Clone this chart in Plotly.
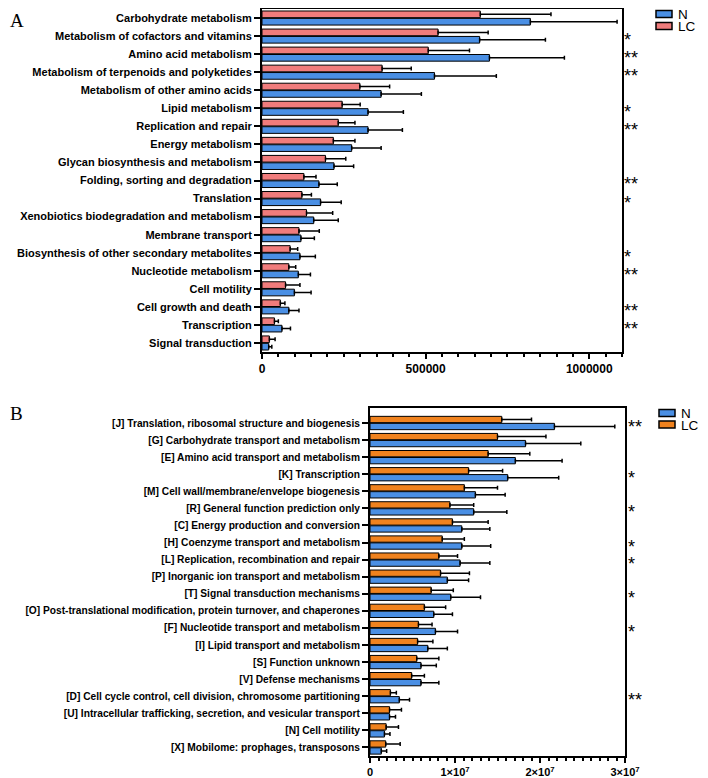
import plotly.graph_objects as go

# Panel A - KEGG pathways
kegg_terms = ["Carbohydrate metabolism", "Metabolism of cofactors and vitamins", "Amino acid metabolism",
              "Metabolism of terpenoids and polyketides", "Metabolism of other amino acids", "Lipid metabolism",
              "Replication and repair", "Energy metabolism", "Glycan biosynthesis and metabolism",
              "Folding, sorting and degradation", "Translation", "Xenobiotics biodegradation and metabolism",
              "Membrane transport", "Biosynthesis of other secondary metabolites", "Nucleotide metabolism",
              "Cell motility", "Cell growth and death", "Transcription", "Signal transduction"]
kegg_lc = [667000, 538000, 508000, 367000, 299000, 245000, 233000, 218000, 194000, 128000,
           122000, 136000, 113000, 86000, 82000, 72000, 56000, 38000, 22500]
kegg_lc_sd = [216000, 153000, 126000, 89000, 91000, 55000, 51000, 66000, 62000, 37000,
              29000, 80000, 62000, 23000, 21000, 44000, 14000, 12000, 17500]
kegg_n = [820000, 665000, 695000, 527000, 364000, 324000, 324000, 274000, 220000, 174000,
          179000, 158000, 119000, 116000, 111000, 99000, 82000, 61000, 20500]
kegg_n_sd = [265000, 201000, 229000, 189000, 123000, 108000, 105000, 90000, 60000, 56000,
             63000, 75000, 41000, 47000, 37000, 51000, 31000, 26000, 9500]
kegg_sig = ["", "*", "**", "**", "", "*", "**", "", "", "**", "*", "", "", "*", "**", "", "**", "**", ""]

# Panel B - COG categories
cog_terms = ["[J] Translation, ribosomal structure and biogenesis", "[G] Carbohydrate transport and metabolism",
             "[E] Amino acid transport and metabolism", "[K] Transcription",
             "[M] Cell wall/membrane/envelope biogenesis", "[R] General function prediction only",
             "[C] Energy production and conversion", "[H] Coenzyme transport and metabolism",
             "[L] Replication, recombination and repair", "[P] Inorganic ion transport and metabolism",
             "[T] Signal transduction mechanisms",
             "[O] Post-translational modification, protein turnover, and chaperones",
             "[F] Nucleotide transport and metabolism", "[I] Lipid transport and metabolism",
             "[S] Function unknown", "[V] Defense mechanisms",
             "[D] Cell cycle control, cell division, chromosome partitioning",
             "[U] Intracellular trafficking, secretion, and vesicular transport",
             "[N] Cell motility", "[X] Mobilome: prophages, transposons"]
cog_lc = [15.5e6, 15.0e6, 13.9e6, 11.6e6, 11.1e6, 9.4e6, 9.7e6, 8.5e6, 8.1e6, 8.3e6,
          7.2e6, 6.4e6, 5.7e6, 5.6e6, 5.5e6, 4.9e6, 2.4e6, 2.3e6, 1.9e6, 1.85e6]
cog_lc_sd = [3.5e6, 5.7e6, 4.9e6, 4.0e6, 3.9e6, 2.8e6, 4.2e6, 2.6e6, 2.2e6, 3.4e6,
             2.6e6, 2.5e6, 1.6e6, 1.8e6, 2.6e6, 1.5e6, 0.7e6, 1.4e6, 1.45e6, 1.7e6]
cog_n = [21.7e6, 18.3e6, 17.1e6, 16.2e6, 12.4e6, 12.2e6, 10.8e6, 10.8e6, 10.6e6, 9.1e6,
         9.5e6, 7.5e6, 7.7e6, 6.8e6, 6.0e6, 6.0e6, 3.45e6, 2.3e6, 1.7e6, 1.33e6]
cog_n_sd = [7.1e6, 6.5e6, 5.5e6, 6.0e6, 3.5e6, 3.9e6, 3.3e6, 3.4e6, 3.5e6, 2.5e6,
            3.5e6, 2.2e6, 2.6e6, 2.3e6, 1.8e6, 2.1e6, 1.2e6, 0.7e6, 0.65e6, 0.63e6]
cog_sig = ["**", "", "", "*", "", "*", "", "*", "*", "", "*", "", "*", "", "", "", "**", "", "", ""]

BLUE = "#4a8fe4"
SALMON = "#f07c7c"
ORANGE = "#f0821e"
FONT = "Liberation Sans"

# page has an 8px body margin, so the figure is drawn 8px in from the top-left
W, H = 692, 770


def px_x(v):
    return v / W


def px_y(v):
    return 1 - v / H


def bar(name, x, sd, y, color, xa, ya):
    return go.Bar(
        name=name, x=x, y=y, orientation="h", xaxis=xa, yaxis=ya, showlegend=False,
        marker=dict(color=color, line=dict(color="black", width=1)),
        error_x=dict(type="data", array=sd, arrayminus=[0] * len(sd), symmetric=False,
                     color="black", thickness=1.5, width=2),
    )


fig = go.Figure()
fig.add_trace(bar("LC", kegg_lc, kegg_lc_sd, kegg_terms, SALMON, "x", "y"))
fig.add_trace(bar("N", kegg_n, kegg_n_sd, kegg_terms, BLUE, "x", "y"))
fig.add_trace(bar("LC", cog_lc, cog_lc_sd, cog_terms, ORANGE, "x2", "y2"))
fig.add_trace(bar("N", cog_n, cog_n_sd, cog_terms, BLUE, "x2", "y2"))

axis_common = dict(showline=True, linecolor="black", linewidth=2, mirror=True, automargin=False,
                   ticks="outside", tickcolor="black", tickwidth=2, showgrid=False, zeroline=False)

fig.update_layout(
    template="none",
    width=W, height=H,
    margin=dict(l=0, r=0, t=0, b=0),
    paper_bgcolor="white", plot_bgcolor="white",
    barmode="group", bargap=0.18, bargroupgap=0.1,
    font=dict(family=FONT, color="black"),
    showlegend=False,
    xaxis=dict(domain=[px_x(254), px_x(614)], anchor="y", range=[0, 1100000],
               tickvals=[0, 500000, 1000000], ticktext=["0", "500000", "1000000"],
               tickfont=dict(size=12, weight="bold"), ticklen=5,
               minor=dict(dtick=50000, ticks="outside", ticklen=3, tickwidth=1.5, tickcolor="black"),
               **axis_common),
    yaxis=dict(domain=[px_y(344), px_y(1)], anchor="x", autorange="reversed",
               categoryorder="array", categoryarray=kegg_terms, ticklen=6,
               tickfont=dict(size=11, weight="bold"), **axis_common),
    xaxis2=dict(domain=[px_x(362), px_x(617)], anchor="y2", range=[0, 3e7],
                tickvals=[0, 1e7, 2e7, 3e7],
                ticktext=["0", "1×10<sup>7</sup>", "2×10<sup>7</sup>", "3×10<sup>7</sup>"],
                tickfont=dict(size=11, weight="bold"), ticklen=5,
                minor=dict(dtick=1e6, ticks="outside", ticklen=3, tickwidth=1.5, tickcolor="black"),
                **axis_common),
    yaxis2=dict(domain=[px_y(748), px_y(400)], anchor="x2", autorange="reversed",
                categoryorder="array", categoryarray=cog_terms, ticklen=6,
                tickfont=dict(size=10.2, weight="bold"), **axis_common),
)

annotations = [
    dict(text="A", x=0, y=1, xref="paper", yref="paper", xanchor="left", yanchor="top",
         showarrow=False, font=dict(family="Liberation Serif", size=19)),
    dict(text="B", x=0, y=px_y(393), xref="paper", yref="paper", xanchor="left", yanchor="top",
         showarrow=False, font=dict(family="Liberation Serif", size=19)),
]
for term, s in zip(kegg_terms, kegg_sig):
    if s:
        annotations.append(dict(text=s, x=1.004, y=term, xref="x domain", yref="y", xanchor="left",
                                yanchor="middle", yshift=-4, showarrow=False, font=dict(size=18),
                                borderpad=0))
for term, s in zip(cog_terms, cog_sig):
    if s:
        annotations.append(dict(text=s, x=1.009, y=term, xref="x2 domain", yref="y2", xanchor="left",
                                yanchor="middle", yshift=-4, showarrow=False, font=dict(size=18),
                                borderpad=0))

# legends drawn by hand: flat swatches with a black outline, like the original
shapes = []
legend_spots = [
    (648, 6, "N", BLUE), (648, 18, "LC", SALMON),
    (651, 405, "N", BLUE), (651, 416.5, "LC", ORANGE),
]
for lx, ly, label, color in legend_spots:
    shapes.append(dict(type="rect", xref="paper", yref="paper",
                       x0=px_x(lx), x1=px_x(lx + 16), y0=px_y(ly + 3.5), y1=px_y(ly - 3.5),
                       fillcolor=color, line=dict(color="black", width=1.5)))
    annotations.append(dict(text=label, x=px_x(lx + 21), y=px_y(ly + 0.5), xref="paper", yref="paper",
                            xanchor="left", yanchor="middle", showarrow=False, font=dict(size=13.5),
                            borderpad=0))

fig.update_layout(annotations=annotations, shapes=shapes)

fig.write_html("out.html")
